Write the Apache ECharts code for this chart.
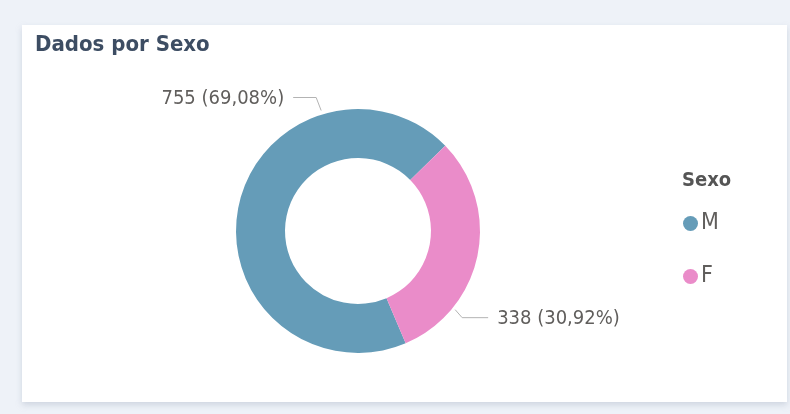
<!DOCTYPE html>
<html>
<head>
<meta charset="utf-8">
<script src="https://cdn.jsdelivr.net/npm/echarts@6/dist/echarts.min.js"></script>
<style>
  html, body { margin: 0; padding: 0; background: #eef2f8; }
  #wrap { position: relative; width: 790px; height: 414px; overflow: hidden; background: #eef2f8; }
  #card { position: absolute; left: 22px; top: 25px; width: 765px; height: 377px; background: #ffffff;
          box-shadow: 0 3px 6px rgba(150,160,180,0.35); }
  #chart { position: absolute; left: 0; top: 0; width: 790px; height: 414px; }
</style>
</head>
<body>
<div id="wrap">
  <div id="card"></div>
  <div id="chart"></div>
</div>
<script>
// Data
const categories = ['M', 'F'];
const values = [755, 338];
const colors = ['#659cb8', '#ea8cc9'];
const chartTitle = 'Dados por Sexo';
const legendTitle = 'Sexo';

const total = values.reduce((a, b) => a + b, 0);
function fmtPct(v) {
  return (v / total * 100).toFixed(2).replace('.', ',') + '%';
}

const CX = 358, CY = 231, R_IN = 73, R_OUT = 122;
// label anchor angles (degrees clockwise from top) and label offsets
const labelAnchor = {
  M: { ang: -17, r: 126, elbow: [-5, -13], seg: -23, side: 'left' },
  F: { ang: 129, r: 125, elbow: [7, 8], seg: 26, side: 'right' }
};

const chart = echarts.init(document.getElementById('chart'), null, { renderer: 'canvas' });
chart.setOption({
  animation: false,
  backgroundColor: 'transparent',
  title: [
    { text: chartTitle, left: 30, top: 29,
      textStyle: { fontFamily: 'DejaVu Sans Condensed', fontSize: 22, fontWeight: 'bold', color: '#3d4d63' } },
    { text: legendTitle, left: 677, top: 166,
      textStyle: { fontFamily: 'DejaVu Sans Condensed', fontSize: 20, fontWeight: 'bold', color: '#555555' } }
  ],
  legend: {
    orient: 'vertical',
    left: 678, top: 207,
    data: categories,
    icon: 'circle',
    itemWidth: 15, itemHeight: 15,
    itemGap: 30,
    textStyle: { fontFamily: 'DejaVu Sans Condensed', fontSize: 23, color: '#605e5c', padding: [2, 0, 0, -2] }
  },
  series: [{
    type: 'pie',
    center: [CX, CY],
    radius: [R_IN, R_OUT],
    startAngle: 293,
    clockwise: true,
    avoidLabelOverlap: false,
    data: categories.map((c, i) => ({ name: c, value: values[i], itemStyle: { color: colors[i] } })),
    label: {
      show: true,
      position: 'outside',
      formatter: p => p.value + ' (' + fmtPct(p.value) + ')',
      fontFamily: 'DejaVu Sans Condensed',
      fontSize: 20,
      color: '#605e5c'
    },
    labelLine: { show: true, lineStyle: { color: '#b3b3b3', width: 1 } },
    labelLayout: function (params) {
      const name = categories[params.dataIndex];
      const a = labelAnchor[name];
      const rad = a.ang * Math.PI / 180;
      const p0 = [CX + a.r * Math.sin(rad), CY - a.r * Math.cos(rad)];
      const p1 = [p0[0] + a.elbow[0], p0[1] + a.elbow[1]];
      const p2 = [p1[0] + a.seg, p1[1]];
      const gap = 9;
      return {
        x: a.side === 'left' ? p2[0] - gap : p2[0] + gap,
        y: p2[1] + 1,
        align: a.side === 'left' ? 'right' : 'left',
        verticalAlign: 'middle',
        labelLinePoints: [p0, p1, p2]
      };
    },
    emphasis: { disabled: true }
  }]
});
</script>
</body>
</html>
